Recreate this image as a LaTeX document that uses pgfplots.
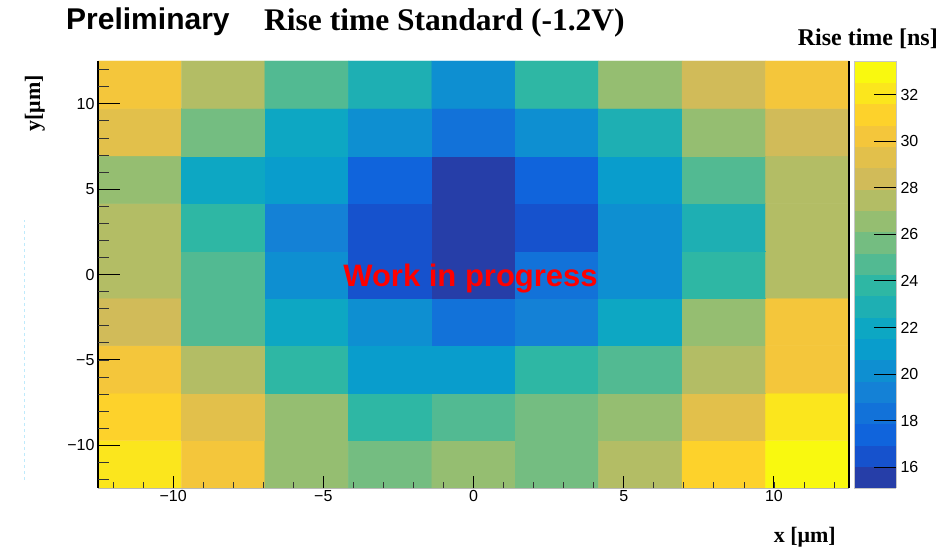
\documentclass[border=0pt]{standalone}
\usepackage{fontspec}
\setmainfont{Liberation Sans}
\newfontfamily\serifbf{Liberation Serif}
\usepackage{pgfplots}
\pgfplotsset{compat=1.18}
\usepackage{pgfplotstable}

% Rise time per pixel cell (ns), 9x9 grid, pitch 25/9 um
\pgfplotstableread{
x y z
-11.111 -11.111 32.2
-8.333 -11.111 30.1
-5.556 -11.111 26.4
-2.778 -11.111 25.8
0 -11.111 26.7
2.778 -11.111 25.5
5.556 -11.111 27.6
8.333 -11.111 31.3
11.111 -11.111 33.45
-11.111 -8.333 31.0
-8.333 -8.333 29.2
-5.556 -8.333 26.5
-2.778 -8.333 23.9
0 -8.333 24.6
2.778 -8.333 25.7
5.556 -8.333 26.8
8.333 -8.333 29.5
11.111 -8.333 32.3
-11.111 -5.556 30.4
-8.333 -5.556 27.6
-5.556 -5.556 23.7
-2.778 -5.556 21.2
0 -5.556 20.9
2.778 -5.556 23.9
5.556 -5.556 24.9
8.333 -5.556 27.3
11.111 -5.556 30.1
-11.111 -2.778 28.6
-8.333 -2.778 24.8
-5.556 -2.778 22.1
-2.778 -2.778 20.0
0 -2.778 18.4
2.778 -2.778 19.4
5.556 -2.778 21.9
8.333 -2.778 26.4
11.111 -2.778 30.3
-11.111 0 27.5
-8.333 0 24.6
-5.556 0 20.3
-2.778 0 16.6
0 0 15.7
2.778 0 18.2
5.556 0 20.1
8.333 0 23.7
11.111 0 27.7
-11.111 2.778 27.4
-8.333 2.778 23.8
-5.556 2.778 19.1
-2.778 2.778 16.3
0 2.778 15.1
2.778 2.778 16.5
5.556 2.778 20.2
8.333 2.778 22.8
11.111 2.778 27.6
-11.111 5.556 26.6
-8.333 5.556 22.0
-5.556 5.556 21.1
-2.778 5.556 17.5
0 5.556 15.4
2.778 5.556 17.3
5.556 5.556 21.0
8.333 5.556 24.8
11.111 5.556 27.5
-11.111 8.333 29.4
-8.333 8.333 25.6
-5.556 8.333 22.1
-2.778 8.333 20.2
0 8.333 18.4
2.778 8.333 20.1
5.556 8.333 23.0
8.333 8.333 26.6
11.111 8.333 28.3
-11.111 11.111 30.3
-8.333 11.111 27.4
-5.556 11.111 24.7
-2.778 11.111 22.9
0 11.111 20.2
2.778 11.111 23.7
5.556 11.111 26.5
8.333 11.111 28.5
11.111 11.111 30.2
}\risetime

% 20-step "bird" palette
\pgfplotsset{
  colormap={bird}{
    rgb255=(38,62,168) rgb255=(22,82,205) rgb255=(16,100,220) rgb255=(18,114,217)
    rgb255=(20,129,214) rgb255=(14,143,209) rgb255=(9,157,204) rgb255=(13,167,195)
    rgb255=(30,175,179) rgb255=(46,183,164) rgb255=(82,186,146) rgb255=(116,189,129)
    rgb255=(149,190,113) rgb255=(179,189,101) rgb255=(209,187,89) rgb255=(226,192,75)
    rgb255=(244,198,59) rgb255=(253,210,43) rgb255=(251,230,29) rgb255=(249,249,15)},
  colormap access=piecewise constant,
}

\begin{document}
\begin{tikzpicture}
\useasboundingbox (0,0) rectangle (945pt,548pt);

\begin{axis}[
  at={(98pt,60pt)}, anchor=south west,
  scale only axis, width=751pt, height=427pt,
  xmin=-12.5, xmax=12.5, ymin=-12.5, ymax=12.5,
  axis on top,
  axis x line*=bottom, axis y line*=left,
  x axis line style={draw=gray!55, line width=0.8pt, -},
  y axis line style={draw=black, line width=1.2pt, -},
  tick align=inside,
  major tick length=12pt, minor tick length=6pt,
  xtick={-10,-5,0,5,10}, xticklabels={−10,−5,0,5,10},
  minor xtick={-12,-11,...,12},
  ytick={-10,-5,0,5,10}, yticklabels={−10,−5,0,5,10},
  ytick style={draw=none},
  every major x tick/.append style={black, line width=0.9pt},
  every minor x tick/.append style={black!80, line width=0.7pt},
  ticklabel style={font=\fontsize{16}{16}\selectfont},
  xticklabel style={yshift=1pt},
  point meta min=15.1, point meta max=33.45,
  colorbar,
  colorbar/width=42pt,
  colorbar style={
    at={(parent axis.north east)}, anchor=north west, xshift=-3.5pt,
    scale only axis, width=42pt, height=427pt,
    ytick={16,18,...,32},
    ytick pos=right, yticklabel pos=right,
    tick align=inside, major tick length=22pt,
    every major y tick/.append style={black, line width=0.9pt},
    axis line style={draw=gray!45, line width=0.6pt},
    yticklabel style={font=\fontsize{16}{16}\selectfont, xshift=1pt},
    /pgf/number format/assume math mode=true,
  },
]
\addplot[matrix plot*, mesh/cols=9, point meta=explicit]
  table[x=x, y=y, meta=z] {\risetime};
\node[anchor=base, inner sep=0, text=red,
      font=\fontsize{31}{31}\selectfont\bfseries] at (axis cs:-0.1,-0.7) {Work in progress};
\end{axis}

% long y ticks, drawn on an overlay with the same geometry
\begin{axis}[
  at={(98pt,60pt)}, anchor=south west,
  scale only axis, width=751pt, height=427pt,
  xmin=-12.5, xmax=12.5, ymin=-12.5, ymax=12.5,
  axis x line=none, axis y line*=left,
  y axis line style={draw=none},
  tick align=inside,
  major tick length=22pt, minor tick length=11pt,
  ytick={-10,-5,0,5,10}, yticklabels={},
  minor ytick={-12,-11,...,12},
  every major y tick/.append style={black, line width=0.9pt},
  every minor y tick/.append style={black!80, line width=0.7pt},
]
\end{axis}

% right frame edge
\draw[black, line width=1.2pt] (849pt,60pt) -- (849pt,487pt);

% titles and axis labels
\node[anchor=base west, inner sep=0, font=\fontsize{30}{30}\selectfont\bfseries]
  at (66pt,518pt) {Preliminary};
\node[anchor=base west, inner sep=0, font=\serifbf\fontsize{31.5}{31.5}\selectfont\bfseries]
  at (264pt,517pt) {Rise time Standard (-1.2V)};
\node[anchor=base east, inner sep=0, font=\serifbf\fontsize{24}{24}\selectfont\bfseries]
  at (938pt,502pt) {Rise time [ns]};
\node[anchor=base east, inner sep=0, font=\serifbf\fontsize{22}{22}\selectfont\bfseries]
  at (836pt,5pt) {x [μm]};
\node[rotate=90, anchor=base east, inner sep=0, font=\serifbf\fontsize{22}{22}\selectfont\bfseries]
  at (40pt,473pt) {y[μm]};

\draw[cyan!25, dashed, line width=0.8pt] (24pt,68pt) -- (24pt,328pt);
\end{tikzpicture}
\end{document}
